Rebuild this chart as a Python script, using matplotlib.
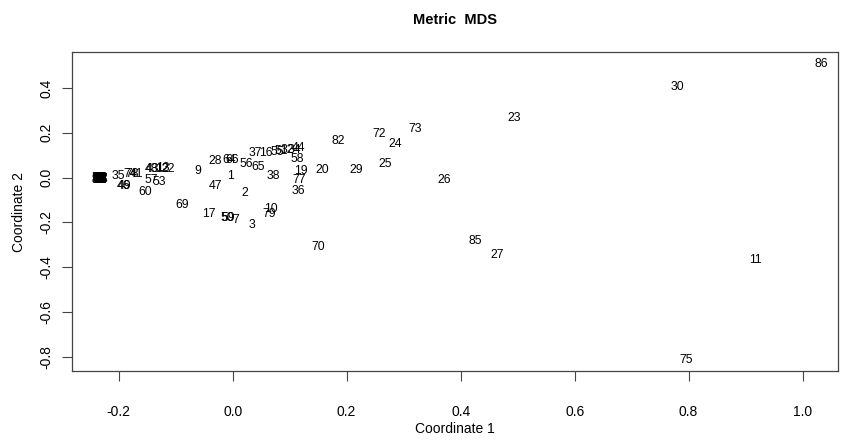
import numpy as np
import matplotlib
matplotlib.use("Agg")
import matplotlib.pyplot as plt

plt.rcParams['font.family'] = ['Liberation Sans', 'DejaVu Sans']

# etiquetas visibles (numero de observacion) y sus coordenadas MDS
labels = ["1", "2", "3", "7", "9", "10", "11", "12", "13", "16",
          "17", "19", "20", "22", "23", "24", "25", "26", "27", "28",
          "29", "30", "32", "34", "35", "36", "37", "38", "41", "43",
          "44", "46", "47", "48", "49", "50", "51", "53", "55", "56",
          "57", "58", "59", "60", "64", "65", "66", "69", "70", "72",
          "73", "74", "75", "77", "78", "79", "82", "85", "86"]
coord1 = [-0.004, 0.022, 0.033, 0.005, -0.062, 0.068, 0.918, -0.125, -0.122, 0.058,
          -0.042, 0.119, 0.158, -0.113, 0.494, 0.285, 0.267, 0.372, 0.464, -0.031,
          0.216, 0.781, 0.096, 0.109, -0.201, 0.115, 0.039, 0.071, -0.168, -0.140,
          0.115, -0.192, -0.030, -0.142, -0.190, -0.010, 0.085, -0.128, 0.079, 0.023,
          -0.143, 0.113, -0.008, -0.154, -0.006, 0.044, -0.001, -0.089, 0.150, 0.257,
          0.320, -0.180, 0.795, 0.116, -0.176, 0.065, 0.186, 0.425, 1.033]
coord2 = [0.007, -0.067, -0.212, -0.189, 0.031, -0.140, -0.368, 0.038, 0.041, 0.111,
          -0.163, 0.031, 0.034, 0.038, 0.266, 0.150, 0.061, -0.011, -0.346, 0.074,
          0.034, 0.404, 0.123, 0.125, 0.008, -0.058, 0.110, 0.007, 0.016, 0.036,
          0.130, -0.038, -0.038, 0.038, -0.040, -0.180, 0.119, -0.018, 0.116, 0.061,
          -0.011, 0.083, -0.180, -0.066, 0.079, 0.049, 0.079, -0.122, -0.310, 0.195,
          0.217, 0.014, -0.814, -0.011, 0.016, -0.163, 0.165, -0.283, 0.507]

# observaciones casi identicas: se apilan en el extremo izquierdo
labels_stack = ["4", "5", "6", "8", "14", "15", "18", "21", "31", "33",
                "39", "40", "42", "45", "52", "54", "61", "62", "63", "67",
                "68", "71", "76", "80", "81", "83", "84"]
coord1_stack = [-0.235, -0.234, -0.233, -0.232, -0.231, -0.235, -0.234, -0.233, -0.232, -0.231,
                -0.235, -0.234, -0.233, -0.232, -0.231, -0.235, -0.234, -0.233, -0.232, -0.231,
                -0.233, -0.234, -0.232, -0.235, -0.231, -0.233, -0.232]
coord2_stack = [-0.002, -0.004, -0.006, -0.008, -0.010, -0.006, -0.002, -0.010, -0.004, -0.008,
                -0.009, -0.003, -0.005, -0.007, -0.001, -0.004, -0.008, -0.002, -0.010, -0.006,
                -0.005, -0.007, -0.003, -0.009, -0.005, -0.001, -0.011]

fig = plt.figure(figsize=(8.43, 4.40), dpi=100)
ax = fig.add_axes([0.085, 0.1575, 0.909, 0.7235])

for lab, xv, yv in zip(labels + labels_stack, coord1 + coord1_stack, coord2 + coord2_stack):
    ax.text(xv, yv, lab, ha='center', va='center', fontsize=8.8, color='black')

ax.set_xlim(-0.2825, 1.062)
ax.set_ylim(-0.862, 0.5585)
ax.set_xticks([-0.2, 0.0, 0.2, 0.4, 0.6, 0.8, 1.0])
ax.set_yticks([-0.8, -0.6, -0.4, -0.2, 0.0, 0.2, 0.4])
ax.set_xticklabels(["-0.2", "0.0", "0.2", "0.4", "0.6", "0.8", "1.0"])
ax.set_yticklabels(["-0.8", "-0.6", "-0.4", "-0.2", "0.0", "0.2", "0.4"],
                   rotation=90, va='center')
ax.tick_params(direction='out', length=7, width=0.8, labelsize=10,
               color='#444444')
ax.tick_params(axis='x', pad=18)
ax.tick_params(axis='y', pad=6)
for s in ax.spines.values():
    s.set_color('#444444')
    s.set_linewidth(0.9)

ax.set_xlabel("Coordinate 1", fontsize=10, labelpad=2)
ax.set_ylabel("Coordinate 2", fontsize=10, labelpad=10)
fig.text(0.54, 0.955, "Metric  MDS", ha='center', va='center',
         fontsize=10.5, fontweight='bold')

fig.savefig("out.png", dpi=100)
